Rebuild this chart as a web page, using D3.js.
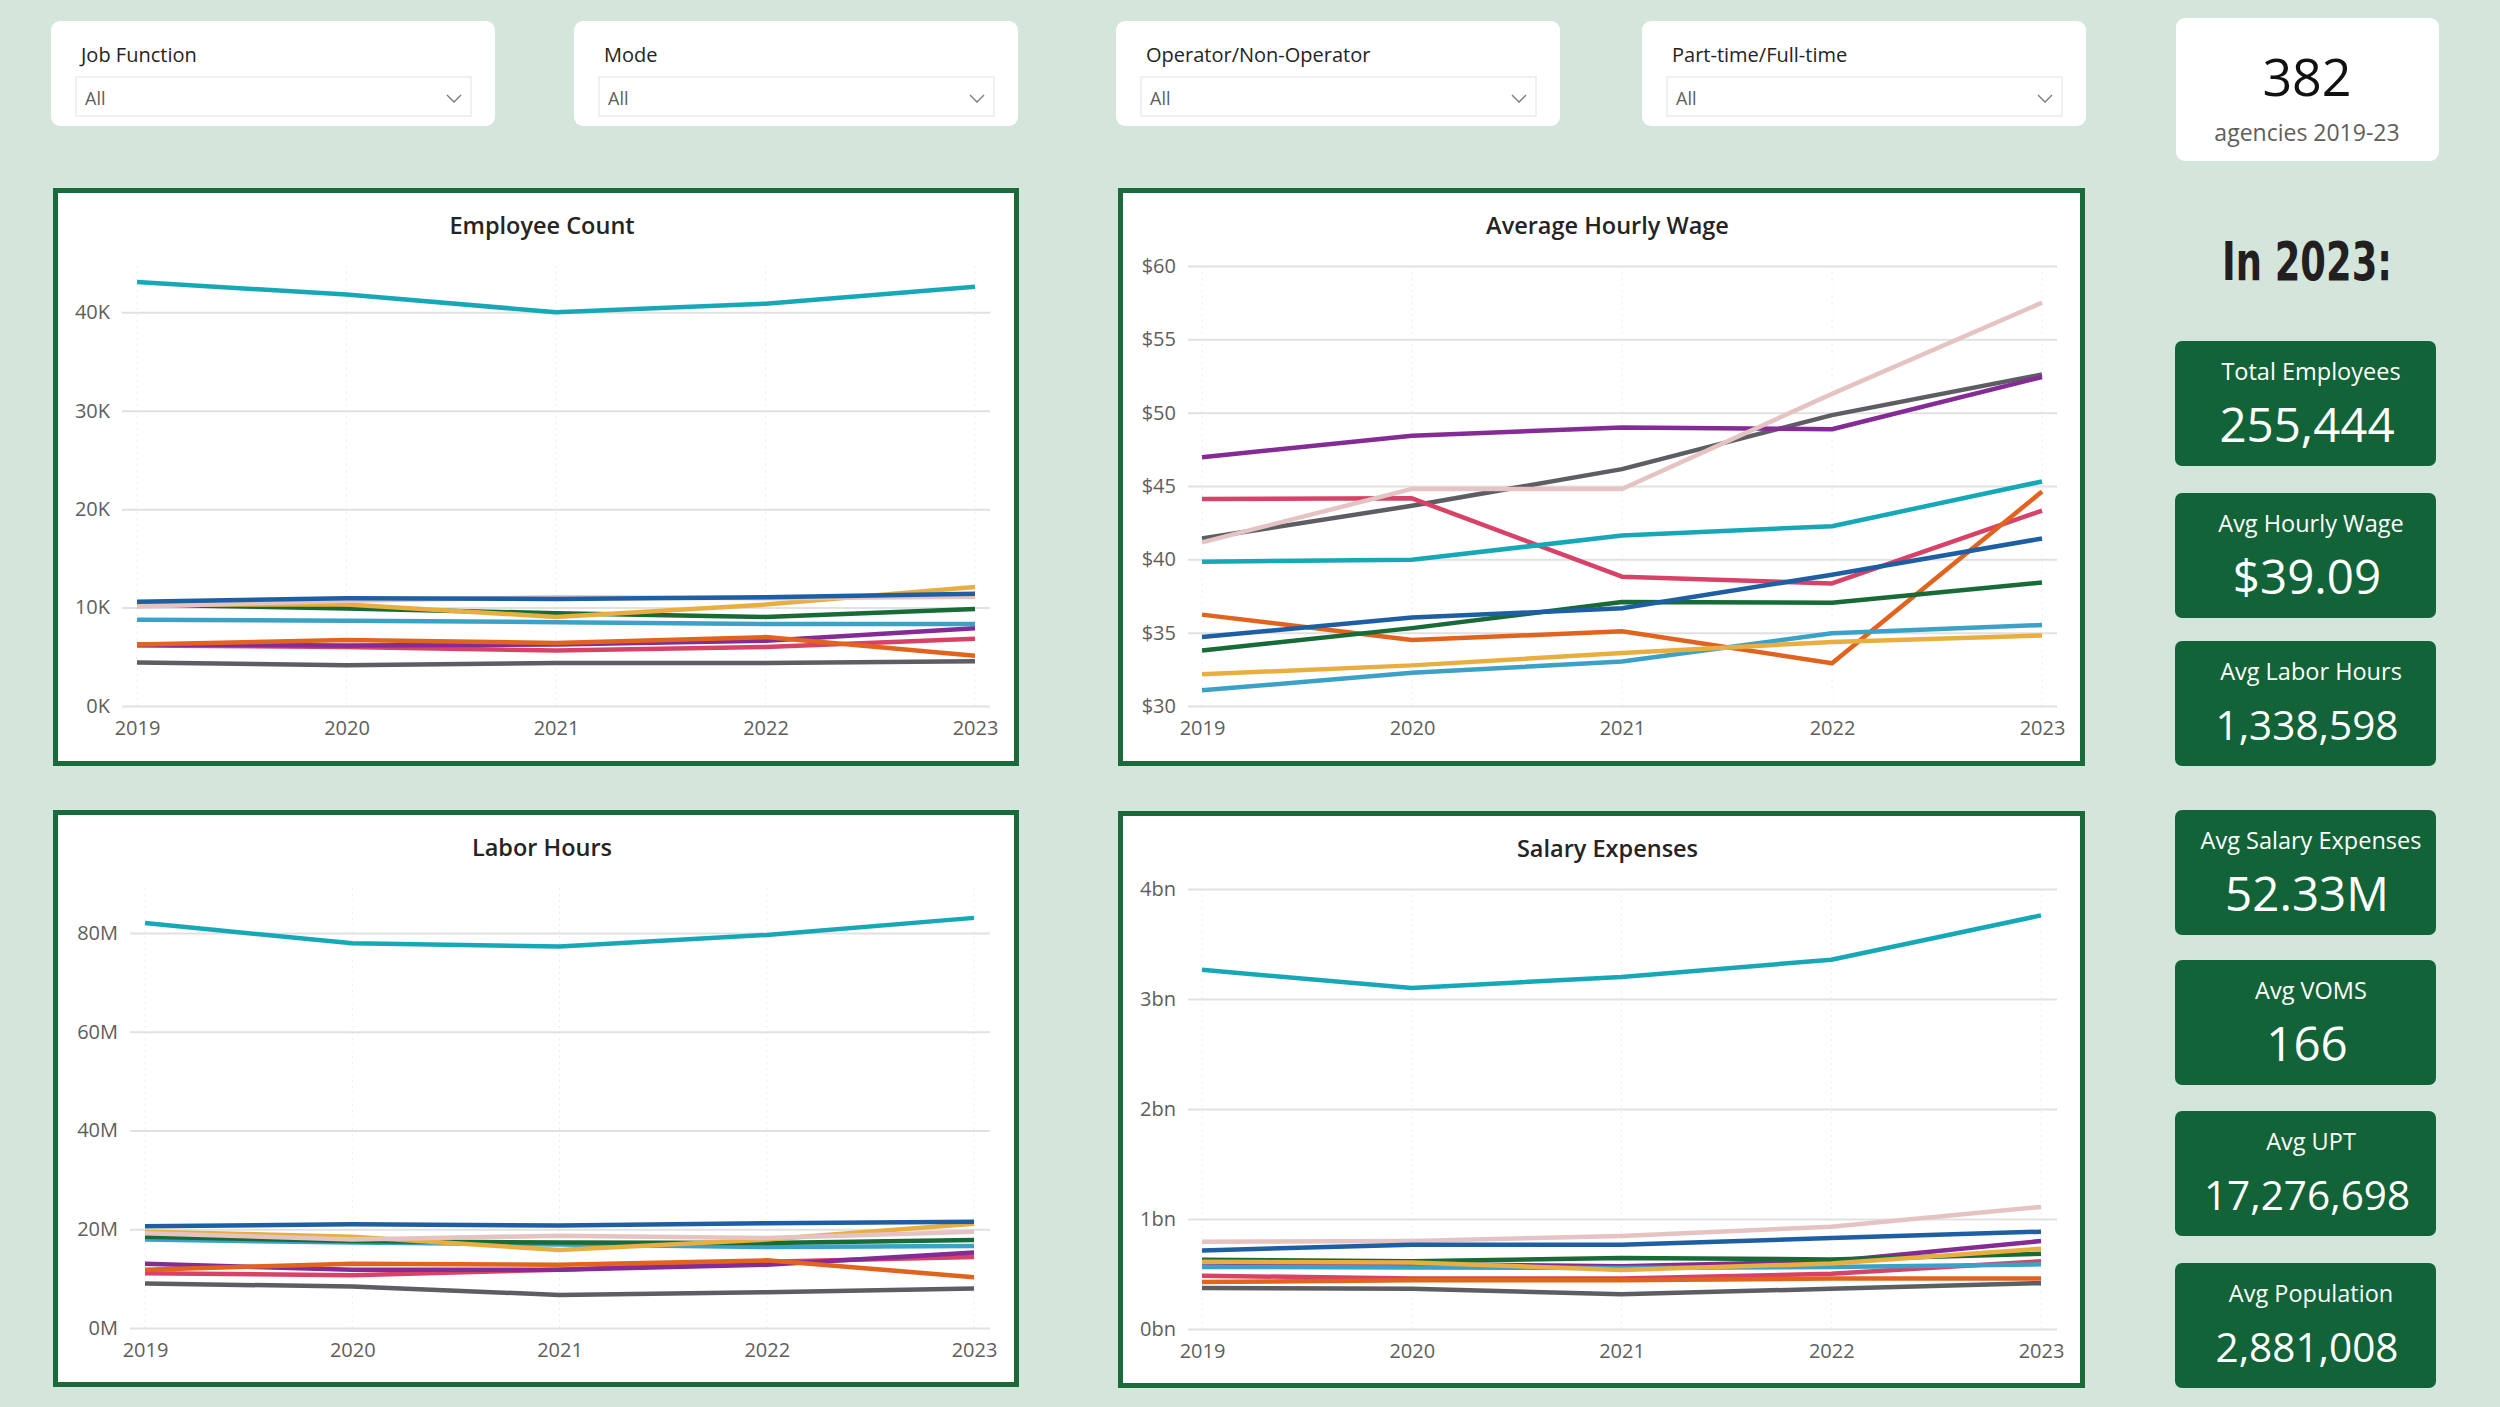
<!DOCTYPE html>
<html>
<head>
<meta charset="utf-8">
<script src="https://cdn.jsdelivr.net/npm/d3@7"></script>
<style>
  body { margin: 0; background: #d4e5db; }
  svg { display: block; }
</style>
</head>
<body>
<div id="dash"></div>
<script>
// ---- data ----
var years = [2019, 2020, 2021, 2022, 2023];

// one row per line, same order as lineColors below
var employeeCount = [
  [43070, 41800, 40000, 40870, 42600],
  [10600, 10950, 10870, 11060, 11400],
  [10100, 10700, 11060, 10950, 11100],
  [10300, 10300, 9050, 10300, 12080],
  [10300, 9900, 9430, 9050, 9850],
  [8750, 8670, 8520, 8330, 8330],
  [6250, 6700, 6400, 7000, 5100],
  [6250, 6140, 6250, 6630, 7900],
  [6140, 6000, 5640, 6000, 6820],
  [4430, 4130, 4360, 4360, 4550]
];
var hourlyWage = [
  [39.84, 39.97, 41.62, 42.26, 45.31],
  [34.70, 36.03, 36.66, 38.95, 41.42],
  [41.16, 44.80, 44.80, 51.28, 57.50],
  [32.16, 32.77, 33.61, 34.37, 34.81],
  [33.79, 35.31, 37.09, 37.04, 38.42],
  [31.07, 32.26, 33.03, 34.96, 35.52],
  [36.23, 34.50, 35.09, 32.92, 44.62],
  [46.96, 48.43, 48.99, 48.87, 52.43],
  [44.11, 44.16, 38.82, 38.36, 43.32],
  [41.42, 43.65, 46.15, 49.83, 52.60]
];
var laborHours = [
  [82.0e6, 77.9e6, 77.25e6, 79.6e6, 83.05e6],
  [20.6e6, 21.0e6, 20.76e6, 21.2e6, 21.5e6],
  [19.2e6, 17.9e6, 18.7e6, 18.2e6, 19.5e6],
  [19.5e6, 18.5e6, 15.8e6, 17.9e6, 21.1e6],
  [18.5e6, 17.6e6, 17.3e6, 17.2e6, 17.8e6],
  [17.9e6, 17.3e6, 16.9e6, 16.4e6, 16.6e6],
  [11.8e6, 13.0e6, 12.8e6, 13.7e6, 10.3e6],
  [13.0e6, 11.8e6, 11.8e6, 12.8e6, 15.3e6],
  [11.1e6, 10.7e6, 11.8e6, 13.4e6, 14.4e6],
  [9.0e6, 8.4e6, 6.7e6, 7.25e6, 8.0e6]
];
var salaryExpenses = [
  [3.265e9, 3.10e9, 3.20e9, 3.357e9, 3.76e9],
  [0.714e9, 0.766e9, 0.766e9, 0.827e9, 0.885e9],
  [0.793e9, 0.80e9, 0.845e9, 0.93e9, 1.11e9],
  [0.612e9, 0.605e9, 0.537e9, 0.595e9, 0.73e9],
  [0.629e9, 0.615e9, 0.646e9, 0.632e9, 0.684e9],
  [0.564e9, 0.56e9, 0.554e9, 0.564e9, 0.588e9],
  [0.427e9, 0.444e9, 0.444e9, 0.458e9, 0.458e9],
  [0.605e9, 0.588e9, 0.571e9, 0.615e9, 0.80e9],
  [0.485e9, 0.458e9, 0.458e9, 0.503e9, 0.615e9],
  [0.373e9, 0.366e9, 0.315e9, 0.366e9, 0.417e9]
];

var employeeTicks = [0, 10000, 20000, 30000, 40000];
var wageTicks = [30, 35, 40, 45, 50, 55, 60];
var laborTicks = [0, 20e6, 40e6, 60e6, 80e6];
var salaryTicks = [0, 1e9, 2e9, 3e9, 4e9];

var filterLabels = ["Job Function", "Mode", "Operator/Non-Operator", "Part-time/Full-time"];
var filterValues = ["All", "All", "All", "All"];

var agencyCount = "382";
var agencyCaption = "agencies 2019-23";

var kpiLabels = ["Total Employees", "Avg Hourly Wage", "Avg Labor Hours", "Avg Salary Expenses", "Avg VOMS", "Avg UPT", "Avg Population"];
var kpiValues = ["255,444", "$39.09", "1,338,598", "52.33M", "166", "17,276,698", "2,881,008"];

// ---- styling ----
var lineColors = ["#17a8b8", "#1e5ea3", "#e5c3c3", "#e8af40", "#186b36", "#3ba1c7", "#e2631e", "#842b95", "#d84266", "#5d5d64"];
var ui = '"Open Sans", "Noto Sans", sans-serif';
var din = '"DejaVu Sans Condensed", "DejaVu Sans", sans-serif';
var green = "#126338";

var W = 2500, H = 1407;
var svg = d3.select("#dash").append("svg").attr("width", W).attr("height", H);
svg.append("rect").attr("width", W).attr("height", H).attr("fill", "#d4e5db");

// ---- slicer cards ----
var filterX = [51, 574, 1116, 1642];
filterLabels.forEach(function(lab, i) {
  var g = svg.append("g").attr("transform", "translate(" + filterX[i] + ",21)");
  g.append("rect").attr("width", 444).attr("height", 105).attr("rx", 9).attr("fill", "#fff");
  g.append("text").attr("x", 30).attr("y", 41).text(lab)
    .attr("font-family", ui).attr("font-size", 20).attr("fill", "#252423");
  g.append("rect").attr("x", 25).attr("y", 56).attr("width", 395).attr("height", 39)
    .attr("fill", "#fff").attr("stroke", "#ebebeb").attr("stroke-width", 1.5);
  g.append("text").attr("x", 34).attr("y", 84).text(filterValues[i])
    .attr("font-family", ui).attr("font-size", 18).attr("fill", "#605e5c");
  g.append("path").attr("d", "M396,74 L403,81 L410,74")
    .attr("fill", "none").attr("stroke", "#777").attr("stroke-width", 1.3);
});

// agencies card
var ag = svg.append("g").attr("transform", "translate(2176,18)");
ag.append("rect").attr("width", 263).attr("height", 143).attr("rx", 9).attr("fill", "#fff");
ag.append("text").attr("x", 131).attr("y", 78).attr("text-anchor", "middle").text(agencyCount)
  .attr("font-family", ui).attr("font-size", 52).attr("fill", "#111");
ag.append("text").attr("x", 131).attr("y", 123).attr("text-anchor", "middle").text(agencyCaption)
  .attr("font-family", ui).attr("font-size", 23).attr("fill", "#605e5c");

svg.append("text").attr("x", 2307).attr("y", 280).attr("text-anchor", "middle").text("In 2023:")
  .attr("font-family", din).attr("font-weight", "bold").attr("font-size", 53)
  .attr("textLength", 170).attr("lengthAdjust", "spacingAndGlyphs").attr("fill", "#231f20");

// ---- KPI cards ----
var kpiTop = [341, 493, 641, 810, 960, 1111, 1263];
kpiLabels.forEach(function(lab, i) {
  var g = svg.append("g").attr("transform", "translate(2175," + kpiTop[i] + ")");
  g.append("rect").attr("width", 261).attr("height", 125).attr("rx", 7).attr("fill", green);
  g.append("text").attr("x", 136).attr("y", 39).attr("text-anchor", "middle").text(lab)
    .attr("font-family", ui).attr("font-size", 23.5).attr("fill", "#fff");
  // long numbers are shrunk to fit the card, as Power BI does
  var long = kpiValues[i].length > 7;
  g.append("text").attr("x", 132).attr("y", long ? 99 : 101).attr("text-anchor", "middle").text(kpiValues[i])
    .attr("font-family", ui).attr("font-size", long ? 40.5 : 47.5).attr("fill", "#fff");
});

// ---- line chart panels ----
function linePanel(o) {
  var g = svg.append("g").attr("transform", "translate(" + o.x + "," + o.y + ")");
  g.append("rect").attr("x", 2.5).attr("y", 2.5).attr("width", o.w - 5).attr("height", o.h - 5)
    .attr("fill", "#fff").attr("stroke", "#1b6a3c").attr("stroke-width", 5);
  g.append("text").attr("x", o.w / 2 + 6).attr("y", 46).attr("text-anchor", "middle").text(o.title)
    .attr("font-family", ui).attr("font-weight", 600).attr("font-size", 23.5).attr("fill", "#252423");

  var top = 78, bottom = 518;
  var x = d3.scalePoint().domain(years).range([o.px0, o.px1]);
  var y = d3.scaleLinear().domain(o.domain).range([bottom, top]);

  // faint vertical year guides
  g.selectAll(".vg").data(years).enter().append("line")
    .attr("x1", function(d) { return x(d); }).attr("x2", function(d) { return x(d); })
    .attr("y1", top).attr("y2", bottom)
    .attr("stroke", "#eeeeee").attr("stroke-dasharray", "2,4");

  var ya = g.append("g").attr("transform", "translate(" + o.gx0 + ",0)")
    .call(d3.axisLeft(y).tickValues(o.ticks).tickFormat(o.fmt).tickSize(-(o.gx1 - o.gx0)).tickPadding(12));
  ya.select(".domain").remove();
  ya.selectAll("line").attr("stroke", "#e1e1e1").attr("stroke-width", 2);
  ya.selectAll("text").attr("font-family", ui).attr("font-size", 20).attr("fill", "#605e5c");

  var xa = g.append("g").attr("transform", "translate(0," + bottom + ")")
    .call(d3.axisBottom(x).tickSize(0).tickPadding(15).tickFormat(d3.format("d")));
  xa.select(".domain").remove();
  xa.selectAll("text").attr("font-family", ui).attr("font-size", 20).attr("fill", "#605e5c");

  var line = d3.line().x(function(d, i) { return x(years[i]); }).y(function(d) { return y(d); });
  var order = d3.range(o.data.length).reverse();
  g.selectAll(".series").data(order).enter().append("path")
    .attr("d", function(k) { return line(o.data[k]); })
    .attr("fill", "none")
    .attr("stroke", function(k) { return lineColors[k]; })
    .attr("stroke-width", 4.5)
    .attr("stroke-linejoin", "round");
}

linePanel({ x: 53, y: 188, w: 966, h: 578, title: "Employee Count", data: employeeCount,
  domain: [0, 44700], ticks: employeeTicks, fmt: function(d) { return d / 1000 + "K"; },
  gx0: 69, gx1: 937, px0: 84, px1: 922 });

linePanel({ x: 1118, y: 188, w: 967, h: 578, title: "Average Hourly Wage", data: hourlyWage,
  domain: [30, 60], ticks: wageTicks, fmt: function(d) { return "$" + d; },
  gx0: 70, gx1: 939, px0: 84, px1: 924 });

linePanel({ x: 53, y: 810, w: 966, h: 577, title: "Labor Hours", data: laborHours,
  domain: [0, 89.1e6], ticks: laborTicks, fmt: function(d) { return d / 1e6 + "M"; },
  gx0: 77, gx1: 937, px0: 92, px1: 921 });

linePanel({ x: 1118, y: 811, w: 967, h: 577, title: "Salary Expenses", data: salaryExpenses,
  domain: [0, 4e9], ticks: salaryTicks, fmt: function(d) { return d / 1e9 + "bn"; },
  gx0: 70, gx1: 939, px0: 84, px1: 923 });
</script>
</body>
</html>
